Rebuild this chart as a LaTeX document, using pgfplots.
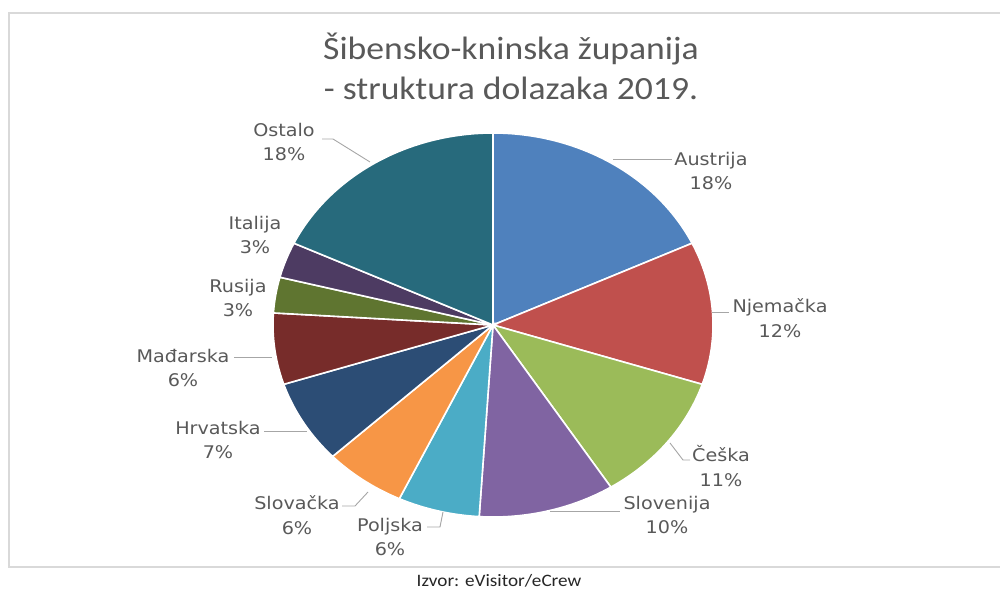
\documentclass[border=0pt]{standalone}
\usepackage{pgfplots}
\pgfplotsset{compat=1.18}
\usepackage{fontspec}
\setmainfont{Carlito}
\newfontfamily\labfont[FakeStretch=1.1]{DejaVu Sans}
\newfontfamily\titfont[FakeStretch=1.1]{Carlito}
\definecolor{cA}{HTML}{4F81BD}
\definecolor{cN}{HTML}{C0504D}
\definecolor{cC}{HTML}{9BBB59}
\definecolor{cS}{HTML}{8064A2}
\definecolor{cP}{HTML}{4BACC6}
\definecolor{cSk}{HTML}{F79646}
\definecolor{cH}{HTML}{2C4D75}
\definecolor{cM}{HTML}{772C2A}
\definecolor{cR}{HTML}{5F7530}
\definecolor{cI}{HTML}{4D3B62}
\definecolor{cO}{HTML}{276A7C}
\definecolor{txt}{HTML}{595959}
\definecolor{lead}{HTML}{A6A6A6}
\definecolor{frame}{HTML}{D9D9D9}
% shares (%): Austrija 18, Njemacka 12, Ceska 11, Slovenija 10, Poljska 6,
% Slovacka 6, Hrvatska 7, Madarska 6, Rusija 3, Italija 3, Ostalo 18
% slices run clockwise from 90 deg; 1% = 3.6 deg
\begin{document}
\begin{tikzpicture}[x=1bp,y=1bp,
  lab/.style={font=\labfont\fontsize{17.5}{25}\selectfont, text=txt, align=center},
  ld/.style={lead, line width=0.9bp}]
\useasboundingbox (0,0) rectangle (1000,591);
\begin{axis}[
  at={(0,0)}, anchor=south west,
  width=1000bp, height=591bp, scale only axis,
  xmin=0, xmax=1000, ymin=0, ymax=591, y dir=reverse,
  hide axis, clip=false,
  every axis plot/.append style={draw=white, line width=1.6bp, samples=80, variable=\t},
]
% frame
\draw[frame, line width=1.8bp] (axis cs:1004,13) -- (axis cs:9,13) -- (axis cs:9,567) -- (axis cs:1004,567);
% slices
\addplot[fill=cA,  domain=25.2:90]     ({493+220*cos(\t)},{325-192*sin(\t)}) -- (axis cs:493,325) -- cycle;
\addplot[fill=cN,  domain=-18:25.2]    ({493+220*cos(\t)},{325-192*sin(\t)}) -- (axis cs:493,325) -- cycle;
\addplot[fill=cC,  domain=-57.6:-18]   ({493+220*cos(\t)},{325-192*sin(\t)}) -- (axis cs:493,325) -- cycle;
\addplot[fill=cS,  domain=-93.6:-57.6] ({493+220*cos(\t)},{325-192*sin(\t)}) -- (axis cs:493,325) -- cycle;
\addplot[fill=cP,  domain=-115.2:-93.6]({493+220*cos(\t)},{325-192*sin(\t)}) -- (axis cs:493,325) -- cycle;
\addplot[fill=cSk, domain=-136.8:-115.2]({493+220*cos(\t)},{325-192*sin(\t)}) -- (axis cs:493,325) -- cycle;
\addplot[fill=cH,  domain=-162:-136.8] ({493+220*cos(\t)},{325-192*sin(\t)}) -- (axis cs:493,325) -- cycle;
\addplot[fill=cM,  domain=-183.6:-162] ({493+220*cos(\t)},{325-192*sin(\t)}) -- (axis cs:493,325) -- cycle;
\addplot[fill=cR,  domain=-194.4:-183.6]({493+220*cos(\t)},{325-192*sin(\t)}) -- (axis cs:493,325) -- cycle;
\addplot[fill=cI,  domain=-205.2:-194.4]({493+220*cos(\t)},{325-192*sin(\t)}) -- (axis cs:493,325) -- cycle;
\addplot[fill=cO,  domain=-270:-205.2] ({493+220*cos(\t)},{325-192*sin(\t)}) -- (axis cs:493,325) -- cycle;
% leader lines
\draw[ld] (axis cs:370,162) -- (axis cs:333,139) -- (axis cs:322,139);
\draw[ld] (axis cs:613,159) -- (axis cs:672,159);
\draw[ld] (axis cs:712,312) -- (axis cs:729,312);
\draw[ld] (axis cs:670,443) -- (axis cs:683,460) -- (axis cs:690,460);
\draw[ld] (axis cs:550,511) -- (axis cs:620,511);
\draw[ld] (axis cs:443,512) -- (axis cs:440,527) -- (axis cs:427,527);
\draw[ld] (axis cs:368,492) -- (axis cs:355,506) -- (axis cs:342,506);
\draw[ld] (axis cs:307,431) -- (axis cs:264,431);
\draw[ld] (axis cs:272,357) -- (axis cs:234,357);
% labels
\node[lab] at (axis cs:284,142) {Ostalo\\18\%};
\node[lab] at (axis cs:255,235) {Italija\\3\%};
\node[lab] at (axis cs:238,298) {Rusija\\3\%};
\node[lab] at (axis cs:183,368) {Mađarska\\6\%};
\node[lab] at (axis cs:218,440) {Hrvatska\\7\%};
\node[lab] at (axis cs:297,515) {Slovačka\\6\%};
\node[lab] at (axis cs:390,537) {Poljska\\6\%};
\node[lab] at (axis cs:667,515) {Slovenija\\10\%};
\node[lab] at (axis cs:721,466) {Češka\\11\%};
\node[lab] at (axis cs:780,318) {Njemačka\\12\%};
\node[lab] at (axis cs:711,171) {Austrija\\18\%};
% title
\node[font=\titfont\fontsize{32.5}{40}\selectfont, text=txt, anchor=base] at (axis cs:511,60) {Šibensko-kninska županija};
\node[font=\titfont\fontsize{32.5}{40}\selectfont, text=txt, anchor=base] at (axis cs:511,100) {- struktura dolazaka 2019.};
% source
\node[font=\titfont\fontsize{17.5}{20}\selectfont, text=black!85, anchor=base] at (axis cs:499,586) {Izvor: eVisitor/eCrew};
\end{axis}
\end{tikzpicture}
\end{document}
